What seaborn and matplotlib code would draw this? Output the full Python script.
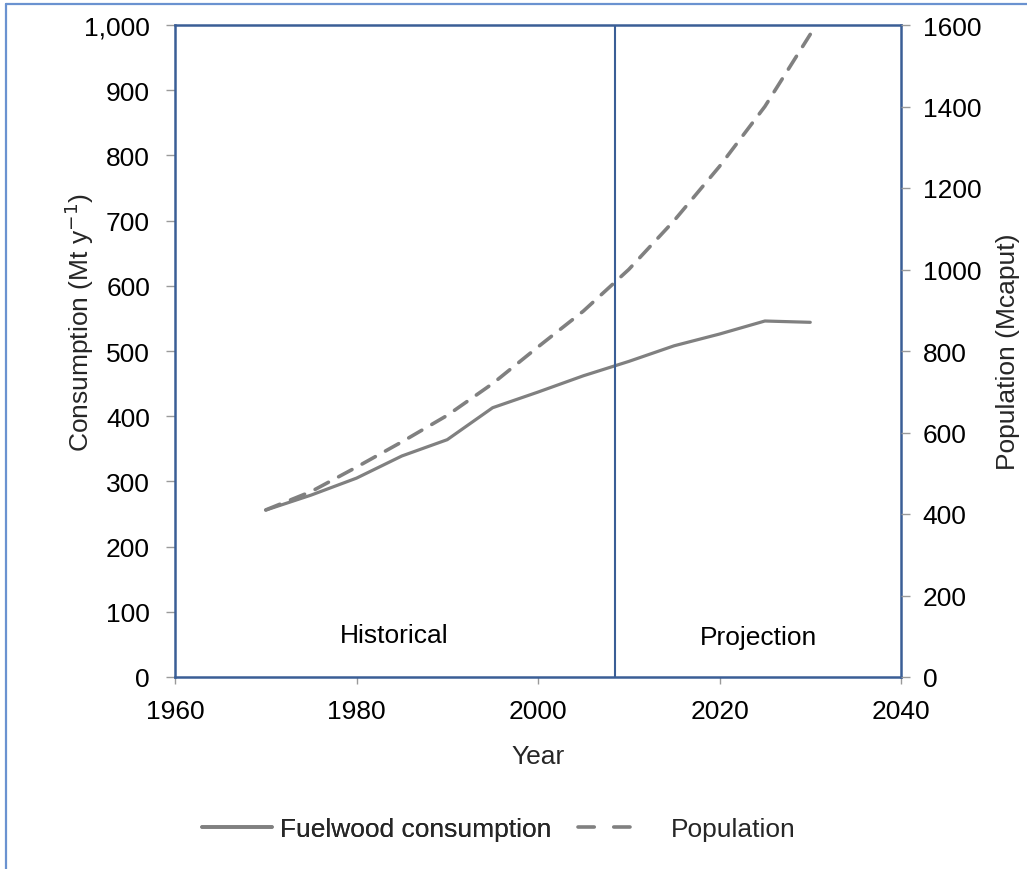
import matplotlib
matplotlib.use("Agg")
import matplotlib.pyplot as plt
import seaborn as sns
import pandas as pd
from matplotlib.lines import Line2D
from matplotlib.ticker import FuncFormatter

years = [1970, 1975, 1980, 1985, 1990, 1995, 2000, 2005, 2010, 2015, 2020, 2025, 2030]
fuelwood = [256, 279, 305, 339, 364, 413, 437, 462, 484, 508, 526, 546, 544]
population = [410, 455, 515, 577, 642, 720, 810, 898, 1000, 1120, 1253, 1400, 1577]
split_year = 2008.5
period_labels = ["Historical", "Projection"]
series_names = ["Fuelwood consumption", "Population"]

sns.set_theme(style="white")
plt.rcParams['font.family'] = ['Liberation Sans', 'DejaVu Sans']

df = pd.DataFrame({"Year": years, "Fuelwood": fuelwood, "Population": population})

FS = 19
W, H = 1027, 870

fig = plt.figure(figsize=(W / 100, H / 100), dpi=100)
ax = fig.add_axes([175/W, 1 - 678/H, (901 - 175)/W, (678 - 26)/H])
ax2 = ax.twinx()

gray = "#808080"
blue = "#3A5E96"

sns.lineplot(data=df, x="Year", y="Fuelwood", ax=ax, color=gray, lw=2.3, legend=False)
sns.lineplot(data=df, x="Year", y="Population", ax=ax2, color=gray, lw=2.6, legend=False)
ax2.lines[0].set_linestyle((0, (4.2, 3.2)))
ax2.lines[0].set_dash_capstyle("round")

ax.set_xlim(1960, 2040)
ax.set_ylim(0, 1000)
ax2.set_ylim(0, 1600)
ax.set_xticks([1960, 1980, 2000, 2020, 2040])
ax.set_yticks(range(0, 1001, 100))
ax2.set_yticks(range(0, 1601, 200))
ax.yaxis.set_major_formatter(FuncFormatter(lambda v, p: f"{int(v):,}"))

ax.axvline(split_year, color=blue, lw=1.5)
ax.text(1984.2, 64, period_labels[0], ha="center", va="center", fontsize=FS, color="black")
ax.text(2024.3, 62, period_labels[1], ha="center", va="center", fontsize=FS, color="black")

for s in ax.spines.values():
    s.set_visible(True)
    s.set_color(blue)
    s.set_linewidth(1.8)
for s in ax2.spines.values():
    s.set_visible(False)

tick_col = "#9a9a9a"
ax.tick_params(axis="x", which="major", direction="out", length=5, width=1, color=tick_col,
               labelsize=FS, labelcolor="black", pad=11, bottom=True)
ax.tick_params(axis="y", which="major", direction="out", length=6.5, width=1, color=tick_col,
               labelsize=FS, labelcolor="black", pad=11.5, left=True)
ax2.tick_params(axis="y", direction="out", length=6.5, width=1, color=tick_col,
                labelsize=FS, labelcolor="black", pad=9, right=True)

ax.set_xlabel("Year", fontsize=FS, labelpad=15)
ax.set_ylabel("Consumption (Mt y$^{-1}$)", fontsize=FS)
ax.yaxis.set_label_coords((96 - 175) / 726, (678 - 323) / 652)
ax2.set_ylabel("Population (Mcaput)", fontsize=FS)
ax2.yaxis.set_label_coords((996 - 175) / 726, (678 - 352) / 652)

h_solid = Line2D([], [], color=gray, lw=2.6)
h_dash = Line2D([], [], color=gray, lw=2.6, linestyle=(0, (4.5, 5.4)), dash_capstyle="round")
leg1 = fig.legend([h_solid], [series_names[0]], loc="center left",
                  bbox_to_anchor=(202/W, 1 - 830/H), frameon=False, fontsize=FS,
                  handlelength=2.65, handletextpad=0.3, borderpad=0, borderaxespad=0)
fig.add_artist(leg1)
fig.legend([h_dash], [series_names[1]], loc="center left",
           bbox_to_anchor=(578/W, 1 - 830/H), frameon=False, fontsize=FS,
           handlelength=1.97, handletextpad=1.55, borderpad=0, borderaxespad=0)

border = "#6A92D0"
fig.add_artist(Line2D([6/W, 6/W], [0, 1 - 5/H], transform=fig.transFigure, color=border, lw=1.6))
fig.add_artist(Line2D([6/W, 1], [1 - 5/H, 1 - 5/H], transform=fig.transFigure, color=border, lw=1.6))

fig.savefig("out.png", dpi=100)
